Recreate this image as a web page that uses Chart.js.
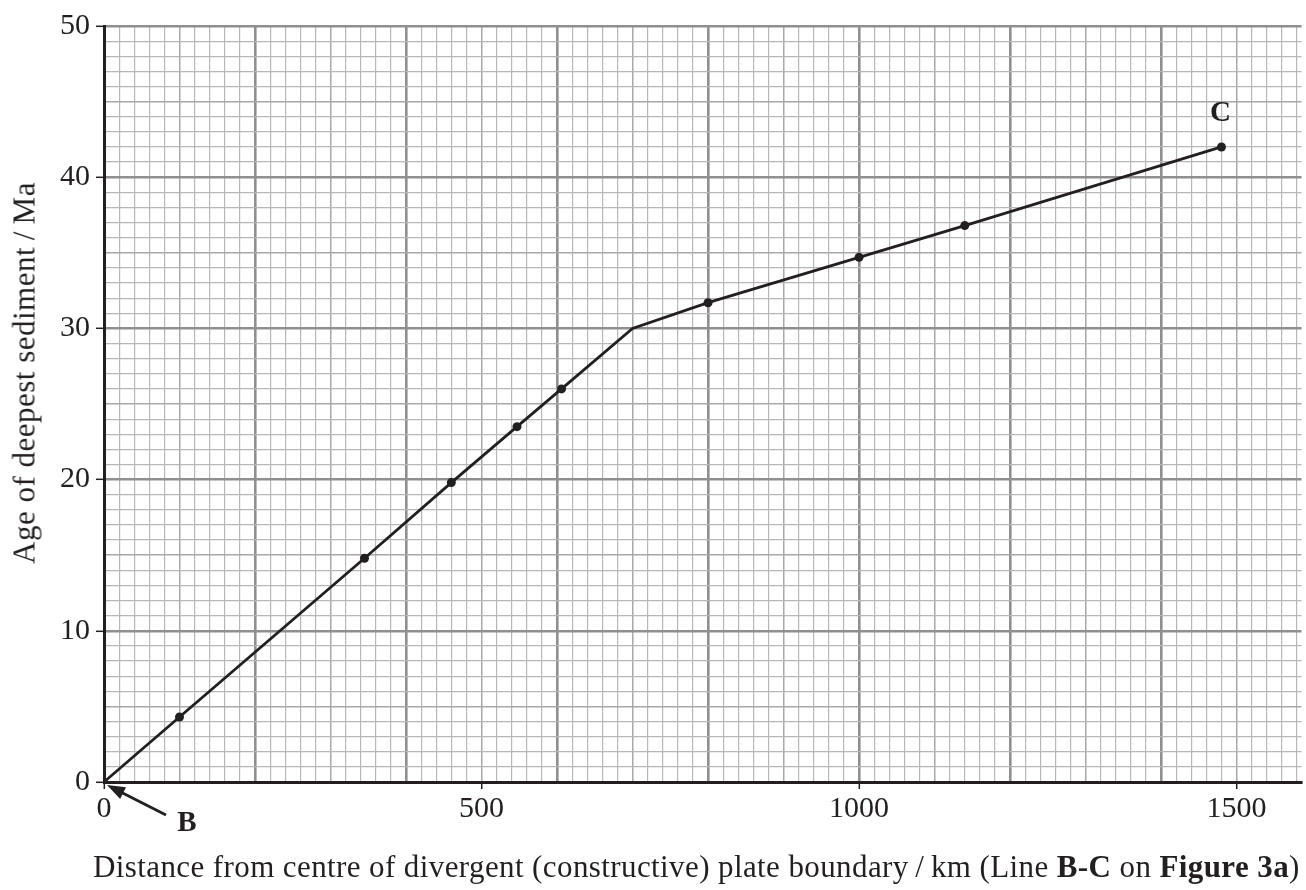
<!DOCTYPE html>
<html>
<head>
<meta charset="utf-8">
<script src="https://cdn.jsdelivr.net/npm/chart.js@4.4.1/dist/chart.umd.min.js"></script>
<style>
    html, body { margin: 0; padding: 0; background: #fff; }
    #wrap { position: relative; width: 1306px; height: 890px; overflow: hidden; }
    #chart { position: absolute; left: 0; top: 0; }
    .axis-title { position: absolute; font-family: "Liberation Serif", "Times New Roman", serif; font-size: 31px; letter-spacing: 0.4px; line-height: 1; color: #231f20; white-space: nowrap; }
    #xTitle { left: 93px; top: 851px; }
    #yTitle { left: 24px; top: 373px; transform: translate(-50%, -50%) rotate(-90deg); letter-spacing: 0.5px; }
</style>
</head>
<body>
<div id="wrap">
    <canvas id="chart" width="1306" height="890"></canvas>
    <div id="xTitle" class="axis-title">Distance from centre of divergent (constructive) plate boundary&#8201;/&#8201;km (Line <b>B-C</b> on <b>Figure 3a</b>)</div>
    <div id="yTitle" class="axis-title">Age of deepest sediment&#8201;/&#8201;Ma</div>
</div>
<script>
// readings along line B-C
const distanceKm = [0, 100, 345, 460, 547, 606, 700, 800, 1000, 1140, 1480];
const ageMa = [0, 4.3, 14.8, 19.8, 23.5, 26.0, 30.0, 31.7, 34.7, 36.8, 42.0];
const hasDot = [false, true, true, true, true, true, false, true, true, true, true];

const xTickLabels = [0, 500, 1000, 1500];
const yTickLabels = [0, 10, 20, 30, 40, 50];

const ink = '#231f20';
const serif = '"Liberation Serif", "Times New Roman", serif';

// graph paper: fine lines, a bit heavier every 5 squares, heaviest every 10
function paper(value, major, mid) {
    if (value % major === 0) return { color: '#8f8f8f', width: 2.6 };
    if (value % mid === 0) return { color: '#a8a8a8', width: 1.5 };
    return { color: '#b7b7b7', width: 1.2 };
}

const lineEnds = {
    id: 'lineEnds',
    afterDatasetsDraw(chart) {
        const { ctx, scales: { x, y } } = chart;
        const ox = x.getPixelForValue(distanceKm[0]);
        const oy = y.getPixelForValue(ageMa[0]);
        const last = distanceKm.length - 1;
        const cx = x.getPixelForValue(distanceKm[last]);
        const cy = y.getPixelForValue(ageMa[last]);

        ctx.save();
        ctx.fillStyle = ink;
        ctx.strokeStyle = ink;
        ctx.font = 'bold 29px ' + serif;
        ctx.textAlign = 'center';
        ctx.textBaseline = 'middle';
        ctx.fillText('C', cx - 1, cy - 33);
        ctx.fillText('B', ox + 83, oy + 42);

        // arrow from B to the origin
        const tx = ox + 62, ty = oy + 33;
        const hx = ox + 3, hy = oy + 3;
        const ang = Math.atan2(hy - ty, hx - tx);
        ctx.lineWidth = 2.8;
        ctx.beginPath();
        ctx.moveTo(tx, ty);
        ctx.lineTo(hx - 12 * Math.cos(ang), hy - 12 * Math.sin(ang));
        ctx.stroke();
        ctx.beginPath();
        ctx.moveTo(hx, hy);
        ctx.lineTo(hx - 18 * Math.cos(ang) + 6.5 * Math.sin(ang), hy - 18 * Math.sin(ang) - 6.5 * Math.cos(ang));
        ctx.lineTo(hx - 18 * Math.cos(ang) - 6.5 * Math.sin(ang), hy - 18 * Math.sin(ang) + 6.5 * Math.cos(ang));
        ctx.closePath();
        ctx.fill();
        ctx.restore();
    },
};

new Chart(document.getElementById('chart'), {
    type: 'scatter',
    data: {
        datasets: [{
            data: distanceKm.map((d, i) => ({ x: d, y: ageMa[i] })),
            showLine: true,
            tension: 0,
            borderColor: ink,
            borderWidth: 2.8,
            backgroundColor: ink,
            pointRadius: hasDot.map((dot) => (dot ? 4.5 : 0)),
            pointBorderWidth: 0,
            clip: false,
        }],
    },
    options: {
        responsive: false,
        animation: false,
        layout: { padding: { top: 26, right: 0, left: 0, bottom: 0 } },
        plugins: { legend: { display: false }, tooltip: { enabled: false } },
        scales: {
            x: {
                type: 'linear',
                min: 0,
                max: 1586,
                afterBuildTicks: (scale) => {
                    const ticks = [];
                    for (let v = 0; v <= 1580; v += 20) ticks.push({ value: v });
                    scale.ticks = ticks;
                },
                afterFit: (scale) => { scale.height = 108; },
                ticks: {
                    autoSkip: false,
                    maxRotation: 0,
                    padding: 2,
                    color: ink,
                    font: { family: serif, size: 30 },
                    callback: (v) => (xTickLabels.includes(v) ? String(v) : ''),
                },
                grid: {
                    color: (c) => paper(c.tick.value, 200, 100).color,
                    lineWidth: (c) => paper(c.tick.value, 200, 100).width,
                    tickLength: 7,
                    tickWidth: 1.5,
                    tickColor: (c) => (xTickLabels.includes(c.tick.value) ? ink : 'rgba(0,0,0,0)'),
                },
                border: { display: true, color: ink, width: 3 },
            },
            y: {
                type: 'linear',
                min: 0,
                max: 50,
                afterBuildTicks: (scale) => {
                    const ticks = [];
                    for (let v = 0; v <= 50; v += 1) ticks.push({ value: v });
                    scale.ticks = ticks;
                },
                afterFit: (scale) => { scale.width = 104; },
                ticks: {
                    autoSkip: false,
                    padding: 6,
                    color: ink,
                    font: { family: serif, size: 30 },
                    callback: (v) => (yTickLabels.includes(v) ? String(v) : ''),
                },
                grid: {
                    color: (c) => paper(c.tick.value, 10, 5).color,
                    lineWidth: (c) => paper(c.tick.value, 10, 5).width,
                    tickLength: 8,
                    tickWidth: 1.5,
                    tickColor: (c) => (yTickLabels.includes(c.tick.value) ? ink : 'rgba(0,0,0,0)'),
                },
                border: { display: true, color: ink, width: 3 },
            },
        },
    },
    plugins: [lineEnds],
});
</script>
</body>
</html>
